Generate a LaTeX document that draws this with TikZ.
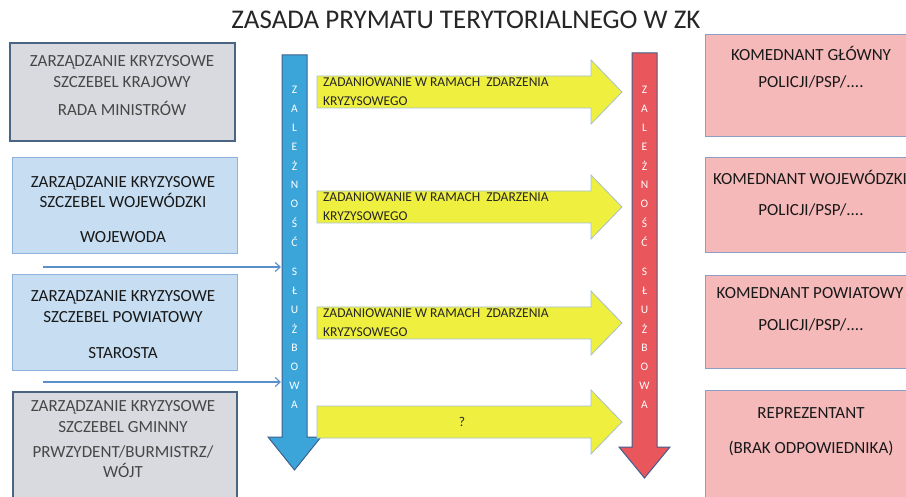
\documentclass[tikz,border=0pt]{standalone}
\usepackage{fontspec}
\setmainfont{Carlito}
\usetikzlibrary{arrows.meta,positioning}

\definecolor{szaryzk}{HTML}{D8DADF}
\definecolor{szararamka}{HTML}{4A6584}
\definecolor{blekitzk}{HTML}{C6DDF2}
\definecolor{blekitramka}{HTML}{8DB3DB}
\definecolor{strzalkazk}{HTML}{5A8FCB}
\definecolor{niebieskizk}{HTML}{3BA5DA}
\definecolor{czerwonyzk}{HTML}{E9565C}
\definecolor{ramkazk}{HTML}{3F5F8C}
\definecolor{zoltyzk}{HTML}{EFEF40}
\definecolor{zoltaramka}{HTML}{A6C0CE}
\definecolor{rozzk}{HTML}{F6B9BA}
\definecolor{rozramka}{HTML}{8C9EC4}

\begin{document}
\begin{tikzpicture}[x=1pt, y=-1pt,
	tytul/.style={font=\fontsize{27}{27}\selectfont, text=black!85},
	szczebel/.style={draw=szararamka, line width=2pt, fill=szaryzk, minimum width=225, minimum height=98, inner sep=0pt},
	jednostka/.style={draw=blekitramka, line width=1pt, fill=blekitzk, minimum width=225, minimum height=96, inner sep=0pt},
	komenda/.style={draw=rozramka, line width=1pt, fill=rozzk, minimum width=240, inner sep=0pt},
	napis/.style={font=\fontsize{17}{17}\selectfont, text=black!90},
	napisszary/.style={font=\fontsize{17}{17}\selectfont, text=black!72},
	litera/.style={font=\fontsize{11.5}{11.5}\selectfont, text=white},
	zadanie/.style={draw=zoltaramka, line width=0.8pt, fill=zoltyzk},
	opis/.style={font=\fontsize{13.5}{19}\selectfont, text=black!85, align=left, anchor=west, inner sep=0pt},
	link/.style={draw=strzalkazk, line width=1.1pt, -{Straight Barb[length=5pt, width=9pt]}}]
	\useasboundingbox (0,0) rectangle (906,497);
	\clip (0,0) rectangle (906,497);
	
	\node[tytul] (tyt) at (466,20) {ZASADA PRYMATU TERYTORIALNEGO W ZK};
	
	% szczeble zarzadzania kryzysowego
	\node[szczebel] (kraj) at (122.5,92) {};
	\node[jednostka] (woj) at (124.5,205.5) {};
	\node[jednostka] (pow) at (124.5,323) {};
	\node[szczebel, minimum width=224, minimum height=120] (gmina) at (125,452) {};
	
	\node[napisszary] (kraj1) at (122,62) {ZARZĄDZANIE KRYZYSOWE};
	\node[napisszary] (kraj2) at (122,82) {SZCZEBEL KRAJOWY};
	\node[napisszary] (kraj3) at (122,108) {RADA MINISTRÓW};
	\node[napis] (woj1) at (123,183) {ZARZĄDZANIE KRYZYSOWE};
	\node[napis] (woj2) at (123,200) {SZCZEBEL WOJEWÓDZKI};
	\node[napis] (woj3) at (123,237) {WOJEWODA};
	\node[napis] (pow1) at (123,297) {ZARZĄDZANIE KRYZYSOWE};
	\node[napis] (pow2) at (123,317) {SZCZEBEL POWIATOWY};
	\node[napis] (pow3) at (123,353) {STAROSTA};
	\node[napisszary] (gm1) at (123,407) {ZARZĄDZANIE KRYZYSOWE};
	\node[napisszary] (gm2) at (123,427) {SZCZEBEL GMINNY};
	\node[napisszary] (gm3) at (123,452) {PRWZYDENT/BURMISTRZ/};
	\node[napisszary] (gm4) at (123,470) {WÓJT};
	
	% zaleznosc sluzbowa
	\draw[draw=ramkazk, line width=1pt, fill=niebieskizk] (282,55) -- (307,55) -- (307,437) -- (321,437)
		-- (294.5,470) -- (268,437) -- (282,437) -- cycle;
	\draw[draw=ramkazk, line width=1pt, fill=czerwonyzk] (632,53) -- (657,53) -- (657,447) -- (670,447)
		-- (644.5,478) -- (619,447) -- (632,447) -- cycle;
	\coordinate (pion) at (281,0);
	\foreach \x/\s in {294.5/b, 644.5/c} {
		\foreach \lit [count=\i] in {Z,A,L,E,Ż,N,O,Ś,Ć}
			\node[litera] (\s\i) at (\x,{90+19*(\i-1)}) {\lit};
		\foreach \lit [count=\i] in {S,Ł,U,Ż,B,O,W,A}
			\node[litera] (\s\i s) at (\x,{272+19*(\i-1)}) {\lit};
	}
	
	\coordinate (w1) at (43,267);
	\coordinate (w2) at (43,382);
	\draw[link] (w1) -- (w1 -| pion);
	\draw[link] (w2) -- (w2 -| pion);
	
	% zadaniowanie
	\foreach \y [count=\i] in {92,207,323,422} {
		\draw[zadanie] (317,\y-16) -- (591,\y-16) -- (591,\y-32) -- (622,\y)
			-- (591,\y+32) -- (591,\y+16) -- (317,\y+16) -- cycle;
	}
	\foreach \y [count=\i] in {92,207,323}
		\node[opis] (zad\i) at (323,\y) {ZADANIOWANIE W RAMACH\ \ ZDARZENIA\\KRYZYSOWEGO};
	\node[opis, anchor=center] (zad4) at (462,422) {?};
	
	% komendanci
	\node[komenda, minimum height=102] (kgl) at (825,86) {};
	\node[komenda, minimum height=95] (kwoj) at (825,205.5) {};
	\node[komenda, minimum height=93] (kpow) at (825,322.5) {};
	\node[komenda, minimum height=120] (krep) at (825,451) {};
	
	\node[napis] (kgl1) at (811,53) {KOMEDNANT GŁÓWNY};
	\node[napis] (kgl2) at (811,82) {POLICJI/PSP/....};
	\node[napis] (kwoj1) at (810,177) {KOMEDNANT WOJEWÓDZKI};
	\node[napis] (kwoj2) at (811,210) {POLICJI/PSP/....};
	\node[napis] (kpow1) at (810,293) {KOMEDNANT POWIATOWY};
	\node[napis] (kpow2) at (811,325) {POLICJI/PSP/....};
	\node[napis] (krep1) at (811,413) {REPREZENTANT};
	\node[napis] (krep2) at (811,448) {(BRAK ODPOWIEDNIKA)};
\end{tikzpicture}
\end{document}
